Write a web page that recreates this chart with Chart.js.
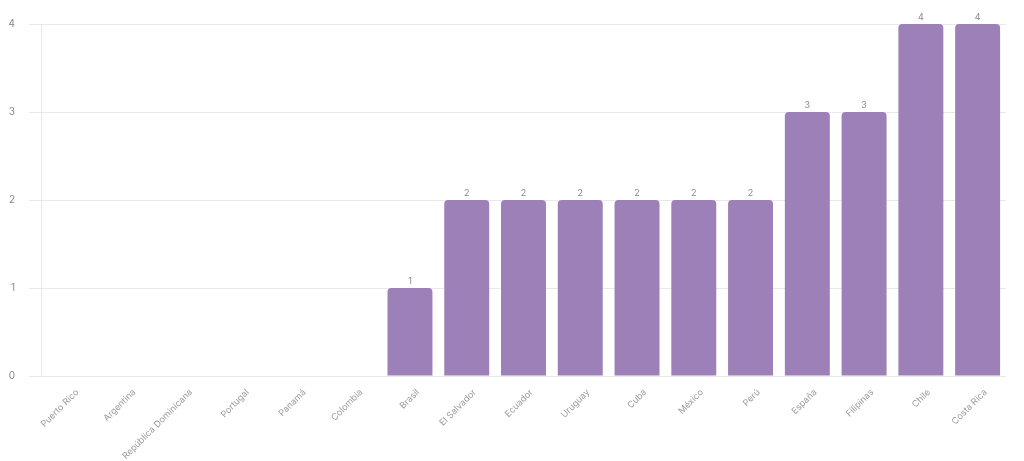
<!DOCTYPE html>
<html>
<head>
<meta charset="utf-8">
<script src="https://cdn.jsdelivr.net/npm/chart.js@4"></script>
<style>
    body { margin: 0; background: #fff; }
    #wrap { width: 1024px; height: 461px; }
</style>
</head>
<body>
<div id="wrap"><canvas id="chart" width="1024" height="461"></canvas></div>
<script>
const countries = ["Puerto Rico", "Argentina", "República Dominicana", "Portugal", "Panamá", "Colombia",
    "Brasil", "El Salvador", "Ecuador", "Uruguay", "Cuba", "México", "Perú", "España", "Filipinas", "Chile", "Costa Rica"];
const counts = [0, 0, 0, 0, 0, 0, 1, 2, 2, 2, 2, 2, 2, 3, 3, 4, 4];
const yTicks = [0, 1, 2, 3, 4];

// value above each bar, skipped for zeros
const valueLabels = {
    id: "valueLabels",
    afterDatasetsDraw(chart) {
        const ctx = chart.ctx;
        const meta = chart.getDatasetMeta(0);
        ctx.save();
        ctx.font = "9px Inter, sans-serif";
        ctx.fillStyle = "#888";
        ctx.textAlign = "center";
        ctx.textBaseline = "bottom";
        meta.data.forEach((bar, i) => {
            const v = counts[i];
            if (!v) return;
            ctx.fillText(String(v), bar.x, bar.y - 2);
        });
        ctx.restore();
    }
};

new Chart(document.getElementById("chart"), {
    type: "bar",
    data: {
        labels: countries,
        datasets: [{
            data: counts,
            backgroundColor: "#9d80b7",
            borderRadius: { topLeft: 4, topRight: 4 },
            borderSkipped: "bottom",
            barPercentage: 0.88,
            categoryPercentage: 0.9
        }]
    },
    options: {
        responsive: false,
        animation: false,
        layout: { padding: { top: 24, right: 18, left: 0, bottom: 0 } },
        plugins: {
            legend: { display: false },
            tooltip: { enabled: false }
        },
        scales: {
            x: {
                afterFit: axis => {
                    axis.height = 85;
                    axis.paddingLeft = 0;
                    axis.paddingRight = 0;
                },
                grid: { display: false },
                border: { display: false },
                ticks: {
                    autoSkip: false,
                    maxRotation: 45,
                    minRotation: 45,
                    labelOffset: 8,
                    color: "#9a9a9a",
                    font: { family: "Inter, sans-serif", size: 9 }
                }
            },
            y: {
                min: 0,
                max: 4,
                afterBuildTicks: axis => { axis.ticks = yTicks.map(v => ({ value: v })); },
                afterFit: axis => { axis.width = 41; },
                grid: { color: "#e8e8e8", tickLength: 12 },
                border: { color: "#e8e8e8" },
                ticks: {
                    color: "#888",
                    padding: 14,
                    font: { family: "Inter, sans-serif", size: 10 }
                }
            }
        }
    },
    plugins: [valueLabels]
});
</script>
</body>
</html>
